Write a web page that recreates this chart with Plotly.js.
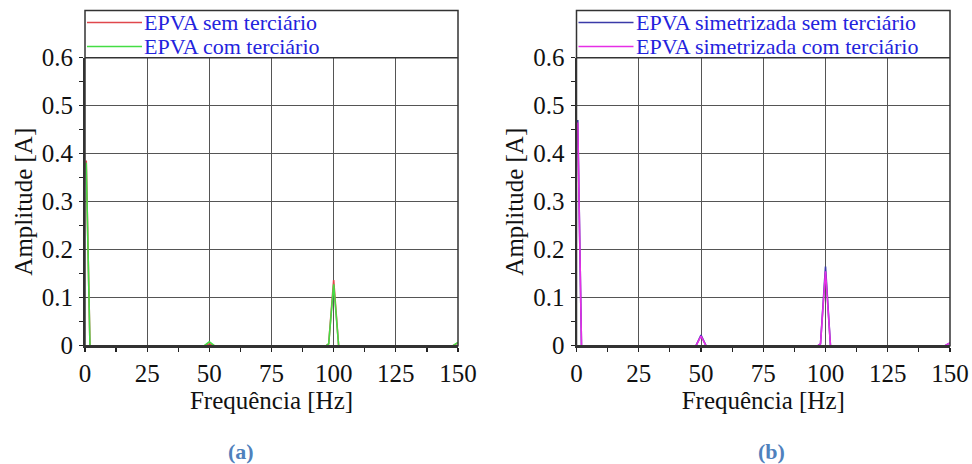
<!DOCTYPE html>
<html>
<head>
<meta charset="utf-8">
<script src="https://cdn.plot.ly/plotly-3.0.1.min.js"></script>
<style>html,body{margin:0;padding:0;background:#fff;}#chart{width:972px;height:464px;}</style>
</head>
<body>
<div id="chart"></div>
<script>
// ---- data ----
const freqHz = [0.5, 2, 48, 50, 52, 97, 98, 100, 102, 148, 150];
// panel (a)
const epvaSemTerciario = [0.386, 0, 0, 0.004, 0, 0, 0.004, 0.137, 0, 0, 0.006];
const epvaComTerciario = [0.381, 0, 0, 0.008, 0, 0, 0.004, 0.128, 0, 0, 0.007];
// panel (b)
const epvaSimSemTerciario = [0.470, 0, 0, 0.022, 0, 0, 0.004, 0.165, 0, 0, 0.006];
const epvaSimComTerciario = [0.465, 0, 0, 0.020, 0, 0, 0.004, 0.155, 0, 0, 0.006];

const namesA = ['EPVA sem terciário', 'EPVA com terciário'];
const namesB = ['EPVA simetrizada sem terciário', 'EPVA simetrizada com terciário'];
const panelLabels = ['(a)', '(b)'];
const xTitle = 'Frequência [Hz]';
const yTitle = 'Amplitude [A]';

// ---- styling / layout ----
const W = 972, H = 464;
const px = x => x / W, py = y => 1 - y / H;
const FONT = 'Liberation Serif';
const colorsA = ['#e0474c', '#44dd44'];
const colorsB = ['#3a3aa8', '#e62ee6'];

const panels = [
  {xl: 85, xr: 458, names: namesA, colors: colorsA, ys: [epvaSemTerciario, epvaComTerciario], xa: 'x', ya: 'y', label: panelLabels[0], labelX: 241},
  {xl: 576.5, xr: 950, names: namesB, colors: colorsB, ys: [epvaSimSemTerciario, epvaSimComTerciario], xa: 'x2', ya: 'y2', label: panelLabels[1], labelX: 771}
];
const yTopPx = 57.7, yBotPx = 345.7, frameTop = 10.5;

const traces = [];
panels.forEach(p => {
  p.ys.forEach((ys, i) => {
    traces.push({x: freqHz, y: ys, xaxis: p.xa, yaxis: p.ya, mode: 'lines', name: p.names[i],
      line: {color: p.colors[i], width: 1.6}, showlegend: false, hoverinfo: 'x+y'});
  });
});

const tickFont = {family: FONT, size: 25, color: '#111'};
function xAxis(p) {
  return {domain: [px(p.xl), px(p.xr)], range: [0, 150], tick0: 0, dtick: 25, anchor: p.ya,
    ticks: 'outside', ticklen: 4, tickwidth: 1.2, tickcolor: '#222',
    showline: true, linecolor: '#333', linewidth: 2, showgrid: true, gridcolor: '#555', gridwidth: 1,
    zeroline: false, tickfont: tickFont, ticklabelstandoff: 0,
    minor: {dtick: 12.5, tick0: 0, ticks: 'outside', ticklen: 4, tickwidth: 1.2, tickcolor: '#222', showgrid: false},
    title: {text: xTitle, font: {family: FONT, size: 25, color: '#111'}, standoff: 6}, automargin: false};
}
function yAxis(p) {
  return {domain: [py(yBotPx), py(yTopPx)], range: [0, 0.6], tick0: 0, dtick: 0.1, anchor: p.xa,
    ticks: 'outside', ticklen: 4, tickwidth: 1.2, tickcolor: '#222',
    showline: true, linecolor: '#333', linewidth: 2, showgrid: true, gridcolor: '#555', gridwidth: 1,
    zeroline: false, tickfont: tickFont, ticklabelstandoff: 1,
    minor: {dtick: 0.05, tick0: 0, ticks: 'outside', ticklen: 4, tickwidth: 1.2, tickcolor: '#222', showgrid: false},
    title: {text: yTitle, font: {family: FONT, size: 25, color: '#111'}, standoff: 2}, automargin: false};
}
function xInner(p, over) {
  return {overlaying: over, anchor: p.ya, range: [0, 150], tick0: 0, dtick: 12.5, ticks: 'inside', ticklen: 4,
    tickwidth: 1.2, tickcolor: '#222', showticklabels: false, showgrid: false, showline: false, zeroline: false};
}
function yInner(p, over) {
  return {overlaying: over, anchor: p.xa, range: [0, 0.6], tick0: 0, dtick: 0.05, ticks: 'inside', ticklen: 4,
    tickwidth: 1.2, tickcolor: '#222', showticklabels: false, showgrid: false, showline: false, zeroline: false};
}

const shapes = [], annotations = [];
const legendRows = [22.5, 46.5];
panels.forEach(p => {
  shapes.push({type: 'rect', xref: 'paper', yref: 'paper', x0: px(p.xl), x1: px(p.xr), y0: py(yBotPx), y1: py(frameTop),
    line: {color: '#333', width: 1.5}, fillcolor: 'rgba(0,0,0,0)', layer: 'above'});
  shapes.push({type: 'line', xref: 'paper', yref: 'paper', x0: px(p.xl), x1: px(p.xr), y0: py(yTopPx), y1: py(yTopPx),
    line: {color: '#333', width: 1.5}, layer: 'above'});
  p.names.forEach((n, i) => {
    shapes.push({type: 'line', xref: 'paper', yref: 'paper', x0: px(p.xl + 2), x1: px(p.xl + 57), y0: py(legendRows[i]), y1: py(legendRows[i]),
      line: {color: p.colors[i], width: 1.6}});
    annotations.push({xref: 'paper', yref: 'paper', x: px(p.xl + 58), y: py(legendRows[i] + 0.5), xanchor: 'left', yanchor: 'middle',
      text: n, showarrow: false, borderpad: 0, font: {family: FONT, size: 22, color: '#2323dd'}});
  });
  annotations.push({xref: 'paper', yref: 'paper', x: px(p.labelX), y: py(451), xanchor: 'center', yanchor: 'middle',
    text: '<b>' + p.label + '</b>', showarrow: false, font: {family: FONT, size: 22, color: '#4f81bd'}});
});

const layout = {
  width: W, height: H, margin: {l: 0, r: 0, t: 0, b: 0}, paper_bgcolor: '#fff', plot_bgcolor: '#fff',
  showlegend: false, font: {family: FONT, size: 24, color: '#111'},
  xaxis: xAxis(panels[0]), yaxis: yAxis(panels[0]),
  xaxis2: xAxis(panels[1]), yaxis2: yAxis(panels[1]),
  xaxis3: xInner(panels[0], 'x'), yaxis3: yInner(panels[0], 'y'),
  xaxis4: xInner(panels[1], 'x2'), yaxis4: yInner(panels[1], 'y2'),
  shapes: shapes, annotations: annotations
};

Plotly.newPlot('chart', traces, layout, {staticPlot: true, displayModeBar: false});
</script>
</body>
</html>
